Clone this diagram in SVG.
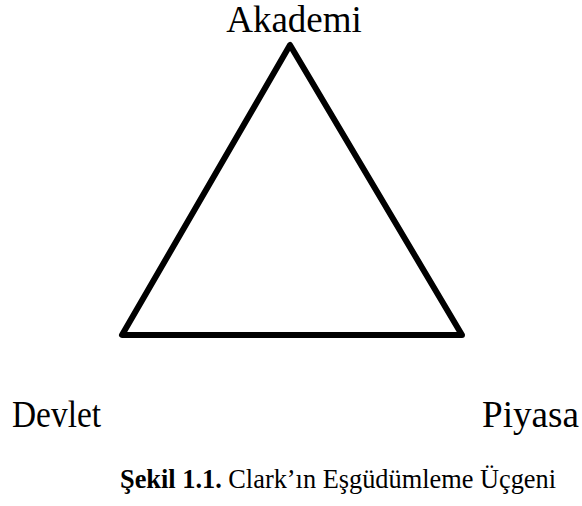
<svg xmlns="http://www.w3.org/2000/svg" width="582" height="506" viewBox="0 0 582 506">
<style>
.lbl{font-family:"Liberation Serif","Times New Roman",serif;font-size:37px;fill:#000}
.cap{font-family:"Liberation Serif","Times New Roman",serif;font-size:27.5px;fill:#000}
.edge{fill:none;stroke:#000;stroke-width:6;stroke-linejoin:round;stroke-linecap:round}
</style>
<rect width="582" height="506" fill="#fff"/>
<g id="connectors">
<polygon class="edge" points="290,45 122,335 462,335"/>
</g>
<g id="akademi"><text class="lbl" x="294" y="32" text-anchor="middle">Akademi</text></g>
<g id="devlet"><text class="lbl" x="12" y="427" textLength="89" lengthAdjust="spacingAndGlyphs">Devlet</text></g>
<g id="piyasa"><text class="lbl" x="482" y="427" textLength="97" lengthAdjust="spacingAndGlyphs">Piyasa</text></g>
<g id="caption"><text class="cap" x="120" y="488" textLength="436" lengthAdjust="spacingAndGlyphs"><tspan font-weight="bold">Şekil 1.1.</tspan> Clark’ın Eşgüdümleme Üçgeni</text></g>
</svg>
